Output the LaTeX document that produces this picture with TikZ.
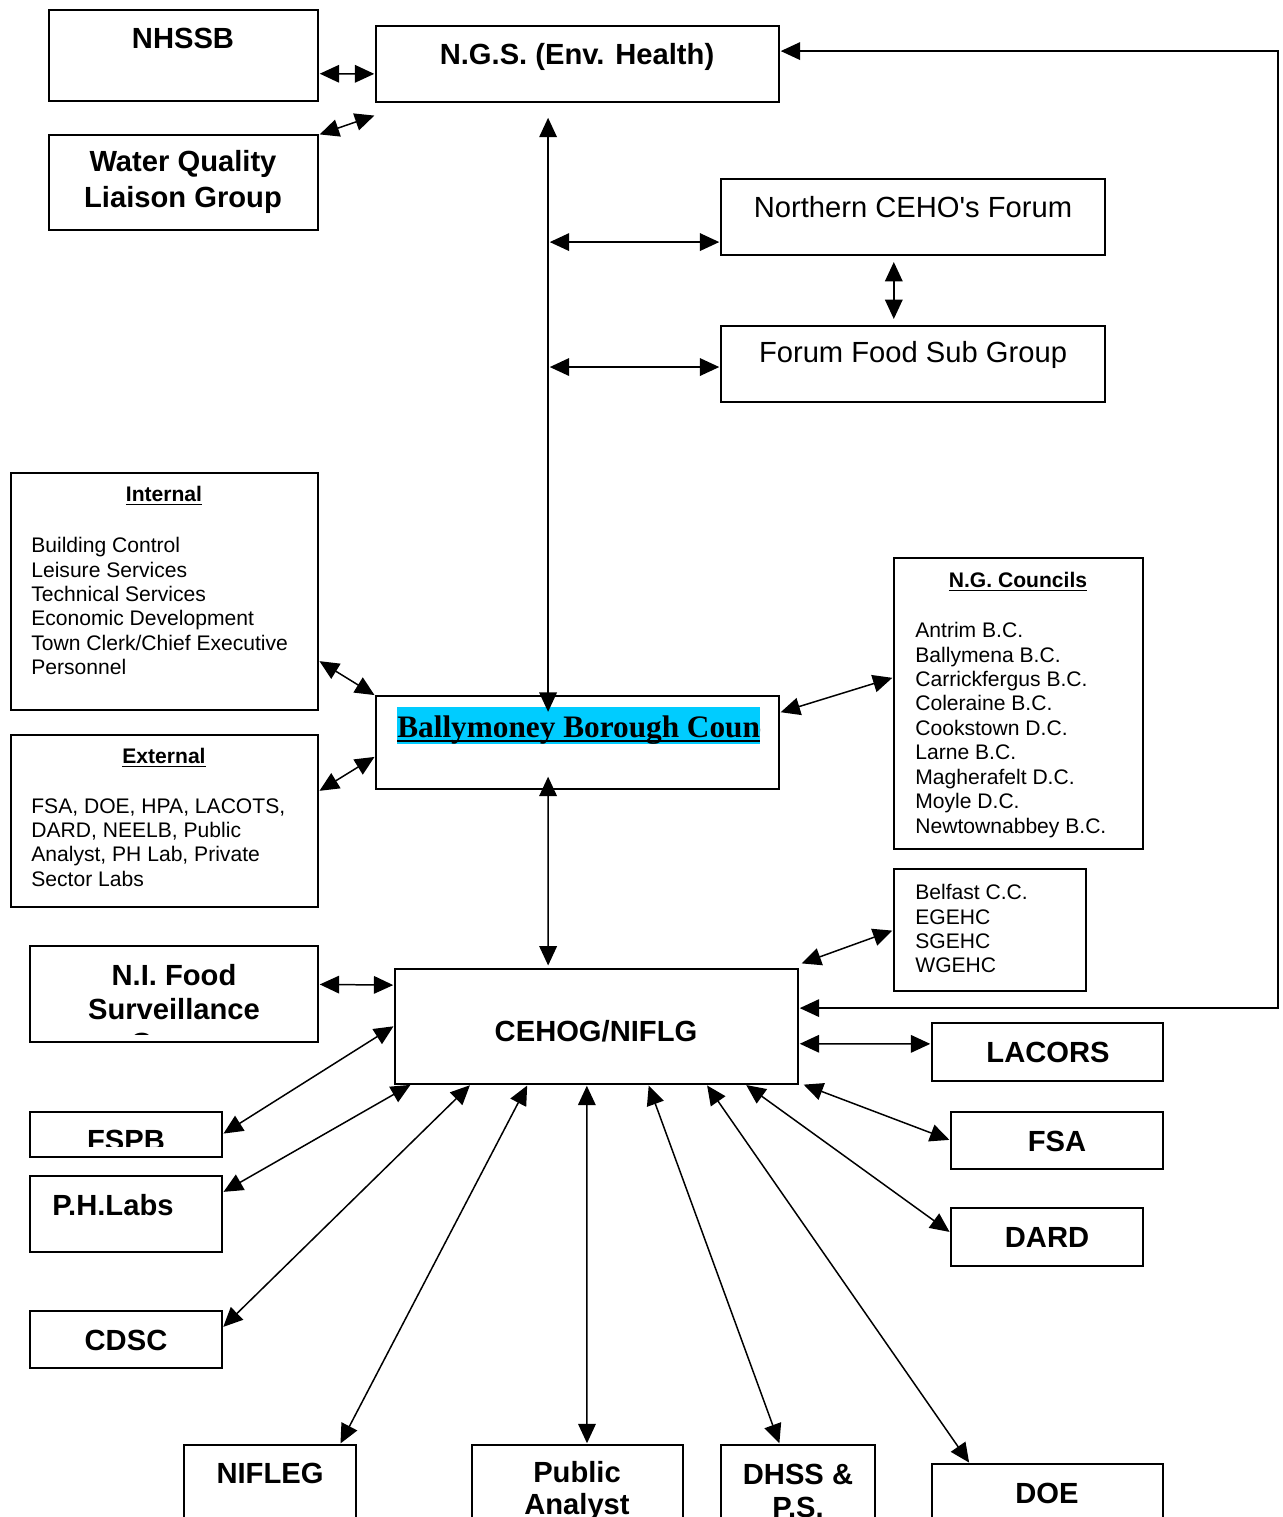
\documentclass[tikz,border=0pt]{standalone}
\usepackage{fontspec}
\setmainfont{Liberation Sans}
\newfontfamily\timesfont{Liberation Serif}
\usepackage{tikz}
\usetikzlibrary{arrows.meta, calc, positioning}
\definecolor{hlcyan}{RGB}{0,204,255}
\newcommand{\pxu}{0.02cm}
\tikzset{
  box/.style={draw, line width=1.1pt, inner sep=0pt, outer sep=0pt, anchor=north west},
  head/.style={font=\fontsize{16.6}{20.4}\selectfont\bfseries, align=center, inner sep=0pt},
  regtext/.style={font=\fontsize{16.6}{20.4}\selectfont, inner sep=0pt},
  subhead/.style={font=\fontsize{12}{13.9}\selectfont\bfseries, inner sep=0pt},
  body/.style={font=\fontsize{12}{13.9}\selectfont, align=left, inner sep=0pt, anchor=north west},
  link/.style={<->, line width=0.85pt, shorten >=1pt, shorten <=1pt},
}

\begin{document}
\begin{tikzpicture}[x=0.02cm, y=-0.02cm, >={Triangle[length=11pt,width=10pt]}]
	\useasboundingbox (0,0) rectangle (1282,1517);
	\clip (0,0) rectangle (1282,1517);

	\node[box, minimum width=269*\pxu, minimum height=91*\pxu]  (nhssb)      at (49,10)    {};
	\node[box, minimum width=403*\pxu, minimum height=76*\pxu]  (ngs)        at (376,26)   {};
	\node[box, minimum width=269*\pxu, minimum height=95*\pxu]  (wql)        at (49,135)   {};
	\node[box, minimum width=384*\pxu, minimum height=76*\pxu]  (northern)   at (721,179)  {};
	\node[box, minimum width=384*\pxu, minimum height=76*\pxu]  (forumsub)   at (721,326)  {};
	\node[box, minimum width=307*\pxu, minimum height=237*\pxu] (internal)   at (11,473)   {};
	\node[box, minimum width=307*\pxu, minimum height=172*\pxu] (external)   at (11,735)   {};
	\node[box, minimum width=403*\pxu, minimum height=93*\pxu]  (ballymoney) at (376,696)  {};
	\node[box, minimum width=249*\pxu, minimum height=291*\pxu] (councils)   at (894,558)  {};
	\node[box, minimum width=192*\pxu, minimum height=122*\pxu] (belfast)    at (894,869)  {};
	\node[box, minimum width=288*\pxu, minimum height=96*\pxu]  (nifood)     at (30,946)   {};
	\node[box, minimum width=403*\pxu, minimum height=115*\pxu] (cehog)      at (395,969)  {};
	\node[box, minimum width=231*\pxu, minimum height=58*\pxu]  (lacors)     at (932,1023) {};
	\node[box, minimum width=192*\pxu, minimum height=45*\pxu]  (fspb)       at (30,1112)  {};
	\node[box, minimum width=192*\pxu, minimum height=76*\pxu]  (phlabs)     at (30,1176)  {};
	\node[box, minimum width=192*\pxu, minimum height=57*\pxu]  (cdsc)       at (30,1311)  {};
	\node[box, minimum width=212*\pxu, minimum height=57*\pxu]  (fsa)        at (951,1112) {};
	\node[box, minimum width=192*\pxu, minimum height=58*\pxu]  (dard)       at (951,1208) {};
	\node[box, minimum width=172*\pxu, minimum height=110*\pxu] (nifleg)     at (184,1445) {};
	\node[box, minimum width=211*\pxu, minimum height=110*\pxu] (pubanalyst) at (472,1445) {};
	\node[box, minimum width=154*\pxu, minimum height=110*\pxu] (dhss)       at (721,1445) {};
	\node[box, minimum width=231*\pxu, minimum height=110*\pxu] (doe)        at (932,1464) {};

	\node[head]    (nhssb-t)    at (183,38)   {NHSSB};
	\node[head]    (ngs-t)      at (577,57)   {N.G.S. (Env. Health)};
	\node[head]    (wql-t)      at (183,182)  {Water Quality\\Liaison Group};
	\node[regtext] (northern-t) at (913,207)  {Northern CEHO\textquotesingle s Forum};
	\node[regtext] (forumsub-t) at (913,355)  {Forum Food Sub Group};

	\node[subhead] (internal-h) at (164,496) {\underline{Internal}};
	\node[body]    (internal-t) at (31,537)  {Building Control\\Leisure Services\\Technical Services\\Economic Development\\Town Clerk/Chief Executive\\Personnel};
	\node[subhead] (external-h) at (164,758) {\underline{External}};
	\node[body]    (external-t) at (31,798)  {FSA, DOE, HPA, LACOTS,\\DARD, NEELB, Public\\Analyst, PH Lab, Private\\Sector Labs};
	\node[subhead] (councils-h) at (1018,582) {\underline{N.G. Councils}};
	\node[body]    (councils-t) at (915,622)  {Antrim B.C.\\Ballymena B.C.\\Carrickfergus B.C.\\Coleraine B.C.\\Cookstown D.C.\\Larne B.C.\\Magherafelt D.C.\\Moyle D.C.\\Newtownabbey B.C.};
	\node[body]    (belfast-t)  at (915,884)  {Belfast C.C.\\EGEHC\\SGEHC\\WGEHC};

	\fill[hlcyan] (397,707) rectangle (760,744);
	\begin{scope}
		\clip (397,700) rectangle (760,750);
		\node[anchor=base west, inner sep=0pt, font=\timesfont\bfseries\fontsize{17.8}{20}\selectfont] (ballymoney-t) at (397,737) {Ballymoney Borough Council};
	\end{scope}
	\draw[line width=1.6pt] (397,741) -- (760,741);

	\begin{scope}
		\clip (31,947) rectangle (317,1034);
		\node[head, font=\fontsize{16.6}{19.3}\selectfont\bfseries] (nifood-t) at (174,1012) {N.I. Food\\Surveillance\\Group};
	\end{scope}
	\begin{scope}
		\clip (31,1113) rectangle (221,1146);
		\node[head] (fspb-t) at (126,1140) {FSPB};
	\end{scope}

	\node[head] (cehog-t)  at (596,1031) {CEHOG/NIFLG};
	\node[head] (lacors-t) at (1048,1052) {LACORS};
	\node[head] (phlabs-t) at (113,1205) {P.H.Labs};
	\node[head] (cdsc-t)   at (126,1340) {CDSC};
	\node[head] (fsa-t)    at (1057,1141) {FSA};
	\node[head] (dard-t)   at (1047,1237) {DARD};
	\node[head] (nifleg-t) at (270,1473) {NIFLEG};
	\node[head, font=\fontsize{16.6}{18.6}\selectfont\bfseries] (pubanalyst-t) at (577,1491) {Public\\Analyst};
	\node[head, font=\fontsize{16.6}{18.6}\selectfont\bfseries] (dhss-t)       at (798,1491) {DHSS \&\\P.S.};
	\node[head] (doe-t)    at (1047,1493) {DOE};

	\coordinate (vline) at (548,0);
	\coordinate (loopx) at (1278,0);
	\coordinate (northern-in) at ($(northern.north west)!0.83!(northern.south west)$);
	\coordinate (forumsub-in) at ($(forumsub.north west)!0.54!(forumsub.south west)$);
	\coordinate (ngs-r)   at ($(ngs.north east)!0.33!(ngs.south east)$);
	\coordinate (cehog-r) at ($(cehog.north east)!0.34!(cehog.south east)$);

	\draw[link] ($(nhssb.north east)!0.7!(nhssb.south east)$) -- ($(ngs.north west)!0.63!(ngs.south west)$);
	\draw[link] (wql.north east) -- ($(ngs.south west)+(0,13)$);
	\draw[link, shorten <=9pt, shorten >=-9pt] ($(ngs.south west)!0.427!(ngs.south east)$) -- ($(ballymoney.north west)!0.427!(ballymoney.north east)$);
	\draw[link] (northern-in -| vline) -- (northern-in);
	\draw[link] (forumsub-in -| vline) -- (forumsub-in);
	\draw[link, shorten <=4pt, shorten >=4pt] ($(northern.south west)!0.45!(northern.south east)$) -- ($(forumsub.north west)!0.45!(forumsub.north east)$);
	\draw[link] (ngs-r) -- (ngs-r -| loopx) |- (cehog-r);

	\draw[link] ($(internal.north east)!0.79!(internal.south east)$) -- (ballymoney.north west);
	\draw[link] ($(external.north east)!0.33!(external.south east)$) -- ($(ballymoney.north west)!0.645!(ballymoney.south west)$);
	\draw[link] ($(ballymoney.north east)!0.18!(ballymoney.south east)$) -- ($(councils.north west)!0.41!(councils.south west)$);
	\draw[link, shorten <=-7pt, shorten >=2pt] ($(ballymoney.south west)!0.427!(ballymoney.south east)$) -- ($(cehog.north west)!0.38!(cehog.north east)$);
	\draw[link] ($(cehog.north east)+(2,-5)$) -- (belfast.west);

	\draw[link] ($(nifood.north east)!0.4!(nifood.south east)$) -- ($(cehog.north west)!0.14!(cehog.south west)$);
	\draw[link] ($(cehog.north east)!0.65!(cehog.south east)$) -- ($(lacors.north west)!0.36!(lacors.south west)$);
	\draw[link] ($(cehog.north west)!0.49!(cehog.south west)$) -- (fspb.east);
	\draw[link] ($(cehog.south west)!0.042!(cehog.south east)$) -- ($(phlabs.north east)!0.22!(phlabs.south east)$);
	\draw[link] ($(cehog.south west)!0.189!(cehog.south east)$) -- ($(cdsc.north east)!0.3!(cdsc.south east)$);
	\draw[link] ($(cehog.south west)!0.33!(cehog.south east)$) -- ($(nifleg.north west)!0.905!(nifleg.north east)$);
	\draw[link] ($(cehog.south west)!0.476!(cehog.south east)$) -- ($(pubanalyst.north west)!0.545!(pubanalyst.north east)$);
	\draw[link] ($(cehog.south west)!0.628!(cehog.south east)$) -- ($(dhss.north west)!0.383!(dhss.north east)$);
	\draw[link] ($(cehog.south west)!0.772!(cehog.south east)$) -- ($(doe.north west)!0.165!(doe.north east)$);
	\draw[link] ($(cehog.south west)!0.868!(cehog.south east)$) -- ($(dard.north west)!0.43!(dard.south west)$);
	\draw[link] ($(cehog.south east)+(4,0)$) -- (fsa.west);
\end{tikzpicture}
\end{document}
